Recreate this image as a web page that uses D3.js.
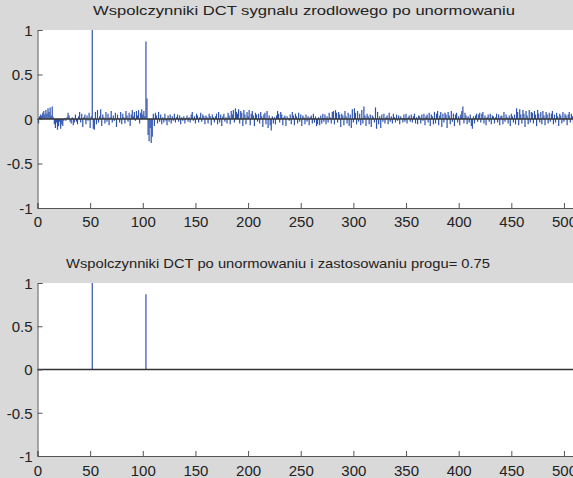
<!DOCTYPE html>
<html>
<head>
<meta charset="utf-8">
<script src="https://cdn.jsdelivr.net/npm/d3@7"></script>
<style>
  body { margin: 0; background: #d9d9d9; }
  svg { display: block; }
  text { font-family: "Liberation Sans", Arial, sans-serif; fill: #222; }
</style>
</head>
<body>
<svg id="fig" width="573" height="478"></svg>
<script>
// DCT coefficients after normalisation (index 1..512)
var coeffs = [
 -0.05, 0.03, 0.05, 0.04, 0.07, 0.09, 0.05, 0.10, 0.06, 0.12,
  0.08, 0.13, 0.04, 0.14, 0.02,-0.06,-0.10,-0.04,-0.12,-0.08,
 -0.03,-0.11,-0.06,-0.08,-0.02, 0.01,-0.02, 0.02, 0.07, 0.04,
 -0.03,-0.05, 0.02,-0.07,-0.04, 0.05,-0.03,-0.06, 0.03, 0.08,
 -0.04, 0.06,-0.09, 0.02, 0.05,-0.06, 0.04,-0.02, 0.07,-0.10,
  0.03, 1.00,-0.11,-0.12, 0.08,-0.06, 0.10,-0.04, 0.03, 0.11,
 -0.08, 0.05, 0.02,-0.05, 0.08,-0.03, 0.06,-0.07, 0.02, 0.09,
 -0.04, 0.04,-0.02, 0.07,-0.09, 0.05, 0.01,-0.04, 0.08,-0.06,
  0.06, 0.02,-0.05, 0.09, 0.04,-0.03, 0.07,-0.08, 0.05, 0.10,
  0.03, 0.08,-0.02, 0.09, 0.04, 0.10,-0.05, 0.07, 0.11, 0.05,
  0.09, 0.03, 0.87, 0.23,-0.18,-0.25,-0.10,-0.27,-0.20, 0.06,
 -0.08, 0.07, 0.04,-0.05, 0.08,-0.03, 0.05,-0.06, 0.02,-0.04,
  0.06,-0.02,-0.07, 0.04,-0.03, 0.05,-0.05, 0.03,-0.02, 0.06,
 -0.04, 0.02, 0.05,-0.03, 0.04,-0.06, 0.02,-0.02, 0.03,-0.05,
  0.01, 0.04,-0.03, 0.02,-0.04, 0.05, 0.08,-0.02, 0.03,-0.05,
  0.06, 0.04,-0.04, 0.02, 0.07,-0.03, 0.05, 0.03,-0.06, 0.04,
  0.02,-0.05, 0.06, 0.03,-0.07, 0.05, 0.02,-0.04, 0.03, 0.06,
 -0.06, 0.08,-0.04, 0.05,-0.08, 0.03, 0.06,-0.03, 0.02,-0.05,
  0.07, 0.04,-0.06, 0.09, 0.05, 0.10,-0.04, 0.12, 0.08, 0.06,
  0.11,-0.05, 0.09, 0.07,-0.08, 0.10, 0.05,-0.06, 0.08, 0.03,
  0.10,-0.07, 0.06, 0.09, 0.04,-0.08, 0.07, 0.05,-0.03, 0.06,
 -0.05, 0.08, 0.03,-0.09, 0.05, 0.07,-0.06, 0.09,-0.10, 0.04,
 -0.07,-0.13, 0.03,-0.05, 0.02,-0.06, 0.04, 0.09, 0.06,-0.04,
  0.08, 0.05,-0.07, 0.02, 0.04,-0.08, 0.03, 0.01,-0.02, 0.05,
 -0.06, 0.08, 0.04,-0.07, 0.06, 0.03,-0.05, 0.07,-0.03, 0.05,
 -0.08, 0.04, 0.02,-0.06, 0.05,-0.03, 0.03,-0.07, 0.02, 0.04,
 -0.05, 0.06,-0.04, 0.03,-0.08,-0.06, 0.02,-0.07, 0.04,-0.05,
  0.06,-0.03, 0.05,-0.06, 0.03,-0.04, 0.07, 0.02,-0.05, 0.08,
  0.09,-0.06, 0.10, 0.07,-0.04, 0.08, 0.05,-0.09, 0.06, 0.04,
 -0.07, 0.09, 0.03,-0.05, 0.07,-0.08, 0.05,-0.10, 0.11,-0.04,
  0.12, 0.07,-0.06, 0.09,-0.03, 0.06,-0.07, 0.10,-0.05, 0.14,
  0.04,-0.08, 0.06, 0.03,-0.06, 0.05,-0.09, 0.04, 0.02,-0.04,
  0.13,-0.11, 0.08,-0.06, 0.03,-0.10, 0.05,-0.03, 0.06,-0.05,
  0.02, 0.04,-0.06, 0.07,-0.03, 0.03,-0.05, 0.06, 0.02,-0.04,
  0.05,-0.02, 0.04,-0.06, 0.03, 0.01,-0.04, 0.05,-0.03, 0.06,
 -0.05, 0.02, 0.04,-0.03, 0.05,-0.04, 0.03, 0.06,-0.05, 0.02,
 -0.06, 0.04, 0.03,-0.05, 0.05,-0.02, 0.06,-0.07, 0.03, 0.05,
 -0.04, 0.07,-0.08, 0.05, 0.03,-0.06, 0.08,-0.05, 0.06, 0.09,
 -0.07, 0.04, 0.08,-0.09, 0.06,-0.04, 0.07, 0.05,-0.10, 0.08,
  0.04,-0.06, 0.09,-0.03, 0.06,-0.08, 0.05, 0.07,-0.04, 0.03,
 -0.07, 0.05, 0.09, 0.14,-0.05, 0.07, 0.04,-0.06, 0.03,-0.04,
  0.05,-0.08,-0.11, 0.03,-0.05, 0.04, 0.06,-0.03, 0.05, 0.07,
 -0.04, 0.06, 0.08,-0.05, 0.04,-0.07, 0.02, 0.05,-0.03, 0.06,
 -0.06, 0.04, 0.03,-0.05, 0.02, 0.06,-0.04, 0.05,-0.07, 0.03,
  0.04,-0.06, 0.08,-0.03, 0.05, 0.02,-0.05, 0.04,-0.08, 0.06,
  0.03,-0.04, 0.05,-0.06, 0.12, 0.08,-0.07, 0.11, 0.05,-0.05,
  0.10, 0.06,-0.09, 0.09, 0.04,-0.06, 0.10,-0.04, 0.08, 0.07,
 -0.05, 0.09, 0.05,-0.08, 0.10, 0.06,-0.04, 0.08,-0.06, 0.09,
  0.04,-0.07, 0.08, 0.05,-0.05, 0.07,-0.03, 0.06, 0.09,-0.06,
  0.05,-0.04, 0.07, 0.03,-0.08, 0.06, 0.04,-0.05, 0.08,-0.03,
  0.06, 0.04,-0.07, 0.05, 0.08,-0.04, 0.06, 0.03,-0.05, 0.07,
 -0.04, 0.05
];

// coefficients that survive the threshold (progu = 0.75)
var keptIndex = [52, 103];
var keptValue = [1.00, 0.87];

var xTicks = [0, 50, 100, 150, 200, 250, 300, 350, 400, 450, 500];
var yTicks = [-1, -0.5, 0, 0.5, 1];
var yTickLabels = ["-1", "-0.5", "0", "0.5", "1"];

var titles = [
  "Wspolczynniki DCT sygnalu zrodlowego po unormowaniu",
  "Wspolczynniki DCT po unormowaniu i zastosowaniu progu= 0.75"
];

var svg = d3.select("#fig");
var stemColour = "#2d52ad";

var x = d3.scaleLinear().domain([0, 512]).range([37.5, 576.6]);

// panel geometry: top y (value 1), bottom y (value -1), title pos
var panels = [
  {top: 30, bottom: 208, titleX: 304, titleY: 15, titleW: 422, labelY: 227,
   xs: coeffs.map(function(d, i){ return i + 1; }), vals: coeffs},
  {top: 283, bottom: 456, titleX: 278, titleY: 268, titleW: 424, labelY: 476,
   xs: keptIndex, vals: keptValue}
];

panels.forEach(function(p, k){
  var y = d3.scaleLinear().domain([-1, 1]).range([p.bottom, p.top]);
  var g = svg.append("g");

  g.append("rect")
    .attr("x", x(0)).attr("y", p.top)
    .attr("width", x(512) - x(0)).attr("height", p.bottom - p.top)
    .attr("fill", "#fff");

  // stems
  g.append("g").selectAll("line")
    .data(p.vals)
    .enter().append("line")
    .attr("x1", function(d, i){ return x(p.xs[i]); })
    .attr("x2", function(d, i){ return x(p.xs[i]); })
    .attr("y1", y(0))
    .attr("y2", function(d){ return y(d); })
    .attr("stroke", stemColour)
    .attr("stroke-width", 1.2);

  // baseline
  g.append("line")
    .attr("x1", x(0)).attr("x2", x(512))
    .attr("y1", y(0)).attr("y2", y(0))
    .attr("stroke", "#333").attr("stroke-width", 1.5);

  // axes (MATLAB style inward ticks)
  var xAxis = d3.axisBottom(x).tickValues(xTicks).tickSize(-5).tickPadding(8)
    .tickFormat(d3.format("d"));
  var gx = g.append("g").attr("transform", "translate(0," + p.bottom + ")").call(xAxis);

  var yAxis = d3.axisLeft(y).tickValues(yTicks).tickSize(-5).tickPadding(5)
    .tickFormat(function(d, i){ return yTickLabels[i]; });
  var gy = g.append("g").attr("transform", "translate(" + x(0) + ",0)").call(yAxis);

  [gx, gy].forEach(function(a){
    a.select(".domain").attr("stroke", "#555");
    a.selectAll(".tick line").attr("stroke", "#555");
    a.selectAll(".tick text").attr("font-size", 15)
      .attr("font-family", "Liberation Sans, Arial, sans-serif").attr("fill", "#222");
  });
  gx.selectAll(".tick text").attr("dy", null).attr("y", p.labelY - p.bottom);
  gy.selectAll(".tick text").attr("dy", "0.36em");

  g.append("text")
    .attr("x", p.titleX).attr("y", p.titleY)
    .attr("text-anchor", "middle")
    .attr("font-size", 13)
    .attr("textLength", p.titleW)
    .attr("lengthAdjust", "spacingAndGlyphs")
    .text(titles[k]);
});
</script>
</body>
</html>
